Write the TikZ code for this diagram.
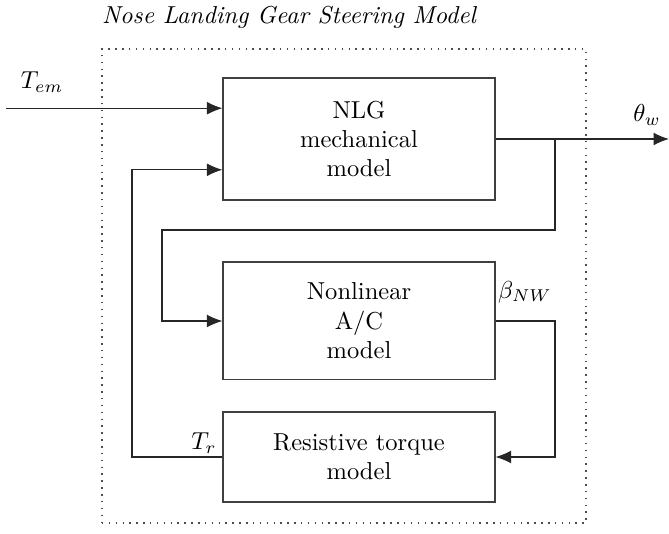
\documentclass[tikz,border=0pt]{standalone}
\usetikzlibrary{arrows.meta,calc}
\begin{document}
\begin{tikzpicture}[x=0.408pt,y=-0.408pt,
  blk/.style={draw=black!75, line width=0.45pt, minimum width=111pt, inner sep=0pt, align=center},
  frame/.style={draw=black!70, line width=0.6pt, dash pattern=on 0.6pt off 2.2pt, minimum width=197.5pt, minimum height=193.4pt, inner sep=0pt},
  sig/.style={draw=black!85, line width=0.45pt},
  arr/.style={sig,-{Latex[length=6.3pt,width=5.2pt]}}]
\useasboundingbox (0,0) rectangle (669,534);
\node[font=\itshape] (title) at (289,17) {Nose Landing Gear Steering Model};
\node[frame] (box) at (344,286) {};
\node[blk, minimum height=49.8pt] (nlg) at (359,139) {NLG\\mechanical\\model};
\node[blk, minimum height=48.1pt] (nl) at (359,321) {Nonlinear\\A/C\\model};
\node[blk, minimum height=36.7pt] (res) at (359,457) {Resistive torque\\model};
\node (tem) at (42,82) {$T_{em}$};
\node (thw) at (647,115) {$\theta_w$};
\node (bnw) at (525,292) {$\beta_{NW}$};
\node (tr) at (204,443) {$T_r$};
\coordinate (nlgin) at ($(nlg.north west)!0.25!(nlg.south west)$);
\coordinate (nlgfb) at ($(nlg.north west)!0.75!(nlg.south west)$);
\coordinate (in) at (6,0);
\coordinate (out) at (669,0);
\coordinate (bx) at (555,230);
\coordinate (lx) at (162,0);
\coordinate (fx) at (132,0);
\draw[arr] (in |- nlgin) -- (nlgin);
\draw[arr] (nlg.east) -- (nlg.east -| out);
\draw[arr] (nlg.east -| bx) -- (bx) -- (bx -| lx) -- (lx |- nl.west) -- (nl.west);
\draw[arr] (nl.east) -- (nl.east -| bx) -- (res.east -| bx) -- (res.east);
\draw[arr] (res.west) -- (res.west -| fx) -- (fx |- nlgfb) -- (nlgfb);
\end{tikzpicture}
\end{document}
